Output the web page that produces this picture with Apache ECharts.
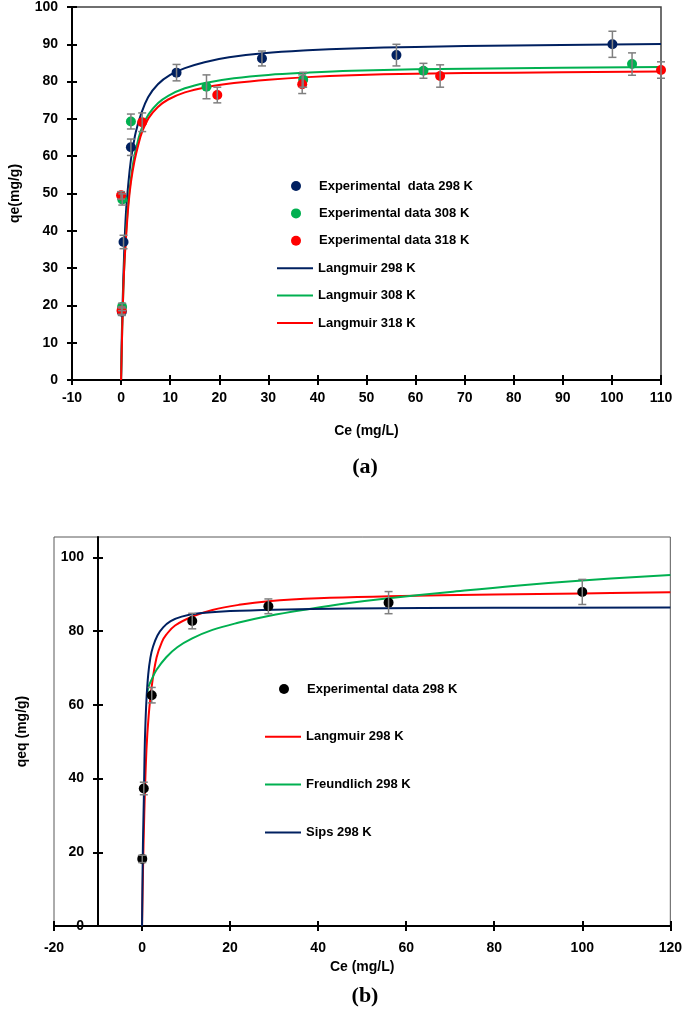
<!DOCTYPE html>
<html><head><meta charset="utf-8">
<script src="https://cdn.jsdelivr.net/npm/echarts@6/dist/echarts.min.js"></script>
<style>html,body{margin:0;padding:0;background:#fff}#c{width:685px;height:1009px}</style>
</head><body><div id="c"></div>
<script>
// ---------- Chart (a) data ----------
const xTicksA = [-10, 110, 10];
const yTicksA = [0, 100, 10];
const expA298 = [[0.15,18.3],[0.5,37.0],[2.0,62.4],[11.3,82.4],[28.7,86.2],[56.1,87.1],[100.1,90.0]];
const errA298 = [1,1.8,2.2,2.2,2,2.9,3.5];
const expA308 = [[0.2,19.6],[0.25,48.4],[2.0,69.3],[17.4,78.6],[37.1,80.5],[61.6,82.9],[104.1,84.7]];
const errA308 = [1,1.5,2,3.2,2,2,3];
const expA318 = [[0.1,18.6],[0.0,49.5],[4.3,69.1],[19.6,76.4],[36.9,79.3],[65.0,81.5],[110.0,83.1]];
const errA318 = [1,1,2.5,2.1,2.5,3,2.2];
const langA298 = [[0,0],[0.15,12],[0.3,20],[0.6,33],[1,45],[1.5,53],[2,59],[2.5,63],[3,66.5],[4,71],[5.5,75.8],[7.5,79.3],[10,81.8],[13,83.6],[17,85.2],[22,86.5],[29,87.6],[38,88.4],[47,88.9],[60,89.3],[80,89.7],[110,90.1]];
const langA308 = [[0,0],[0.15,9],[0.3,17],[0.6,29],[1,39],[1.5,48],[2,54],[2.7,60],[3.5,64.5],[4.3,67.8],[5.6,71.2],[7.5,74.2],[9.6,76.2],[13,78.2],[17.4,79.7],[23,80.9],[30,81.8],[38,82.4],[47,82.9],[60,83.3],[80,83.6],[110,83.9]];
const langA318 = [[0,0],[0.15,9],[0.3,17],[0.6,29],[1,38],[1.5,47],[2,53],[2.7,58.5],[3.5,63],[4.3,66.6],[5.6,70.2],[7.5,73.2],[9.6,75.2],[13,77.1],[17.4,78.5],[23,79.6],[30,80.5],[38,81.2],[47,81.7],[60,82.1],[80,82.4],[110,82.7]];
const legendA = ['Experimental  data 298 K','Experimental data 308 K','Experimental data 318 K','Langmuir 298 K','Langmuir 308 K','Langmuir 318 K'];

// ---------- Chart (b) data ----------
const xTicksB = [-20, 120, 20];
const yTickValuesB = [0,20,40,60,80,100];
const expB298 = [[0.05,18.2],[0.4,37.3],[2.2,62.6],[11.4,82.7],[28.7,86.7],[56.0,87.7],[100.0,90.6]];
const errB298 = [1,1.7,2.1,2.1,2,3,3.4];
const langB = [[0,0],[0.2,14],[0.5,30],[1,47.8],[1.5,57],[2.2,65],[3.3,72.8],[4.5,77],[5.5,79],[7.5,81.5],[11.4,83.9],[16,85.7],[22,87.1],[28.7,88.1],[40,88.9],[56,89.4],[80,89.9],[100,90.2],[120,90.5]];
const freundB = [[1.2,63.5],[1.6,65.3],[2.2,66.9],[3.3,69.5],[5.5,72.9],[8,75.6],[11.4,78],[16,80.3],[22,82.3],[28.7,84.1],[38,86],[47,87.6],[56,88.9],[70,90.6],[85,92.3],[100,93.7],[120,95.2]];
const sipsB = [[0,0],[0.2,22],[0.4,34],[0.55,45],[0.7,52.4],[1,61.3],[1.4,68.2],[1.9,72.8],[2.5,75.8],[3.5,78.8],[4.8,81],[6.5,82.7],[9,83.9],[13,84.8],[20,85.4],[30,85.8],[47,86.1],[80,86.3],[120,86.4]];
const legendB = ['Experimental data 298 K','Langmuir 298 K','Freundlich 298 K','Sips 298 K'];

// ---------- styling ----------
const FONT = "'Liberation Sans', Arial, sans-serif";
const NAVY = '#002060', GREEN = '#00B050', RED = '#FF0000';
const lbl = {fontFamily: FONT, fontWeight: 'bold', fontSize: 14, color: '#000'};
const SUF = ' (b)';

function errRender(params, api) {
  const x = api.value(0), y = api.value(1), e = api.value(2);
  const lo = api.coord([x, y - e]), hi = api.coord([x, y + e]);
  const cap = 4;
  const style = {stroke: '#7f7f7f', lineWidth: 1.5};
  return {type: 'group', children: [
    {type: 'line', shape: {x1: lo[0], y1: lo[1], x2: hi[0], y2: hi[1]}, style},
    {type: 'line', shape: {x1: lo[0]-cap, y1: lo[1], x2: lo[0]+cap, y2: lo[1]}, style},
    {type: 'line', shape: {x1: hi[0]-cap, y1: hi[1], x2: hi[0]+cap, y2: hi[1]}, style}
  ]};
}
const withErr = (pts, errs) => pts.map((p, i) => [p[0], p[1], errs[i]]);

function xAx(grid, t, inside, name, gap, margin) {
  return {
    type: 'value', gridIndex: grid, position: 'bottom', min: t[0], max: t[1], interval: t[2],
    axisLine: {show: !inside, onZero: false, lineStyle: {color: '#000', width: 2}},
    axisTick: {inside: inside, length: 5, lineStyle: {color: '#000', width: 2}},
    axisLabel: inside ? {show: false} : Object.assign({margin: margin}, lbl),
    splitLine: {show: false},
    name: inside ? '' : name, nameLocation: 'middle', nameGap: gap,
    nameTextStyle: lbl
  };
}
function lineS(name, xi, data, color) {
  return {type:'line', name: name, xAxisIndex: xi, yAxisIndex: xi, data: data, symbol:'none', smooth:0.4,
          lineStyle:{color: color, width: 2}, itemStyle:{color: color}, z:2};
}
function scatS(name, xi, data, color, z) {
  return {type:'scatter', name: name, xAxisIndex: xi, yAxisIndex: xi, data: data, symbol:'circle', symbolSize:10,
          itemStyle:{color: color, opacity: 1}, z: z};
}
function errS(name, xi, data) {
  return {type:'custom', name: name, xAxisIndex: xi, yAxisIndex: xi, data: data, renderItem: errRender, encode:{x:0,y:1}, z:6};
}
const legText = {fontFamily: FONT, fontWeight: 'bold', fontSize: 13, lineHeight: 14, color: '#000'};

const series = [
  lineS(legendA[3], 0, langA298, NAVY),
  lineS(legendA[4], 0, langA308, GREEN),
  lineS(legendA[5], 0, langA318, RED),
  scatS(legendA[0], 0, expA298, NAVY, 3),
  scatS(legendA[1], 0, expA308, GREEN, 4),
  scatS(legendA[2], 0, expA318, RED, 5),
  errS('errA298', 0, withErr(expA298, errA298)),
  errS('errA308', 0, withErr(expA308, errA308)),
  errS('errA318', 0, withErr(expA318, errA318)),
  lineS(legendB[1]+SUF, 2, langB, RED),
  lineS(legendB[2]+SUF, 2, freundB, GREEN),
  lineS(legendB[3]+SUF, 2, sipsB, NAVY),
  scatS(legendB[0]+SUF, 2, expB298, '#000', 3),
  errS('errB298', 2, withErr(expB298, errB298))
];

const option = {
  animation: false,
  backgroundColor: '#fff',
  grid: [
    {left:70, right:24, top:6, bottom:629, show:true, borderColor:'#404040', borderWidth:1.5, backgroundColor:'transparent'},
    {left:54, right:14, top:537, bottom:83, show:true, borderColor:'#595959', borderWidth:1, backgroundColor:'transparent'}
  ],
  xAxis: [
    xAx(0, xTicksA, false, 'Ce (mg/L)', 44, 11),
    xAx(0, xTicksA, true, '', 0, 0),
    xAx(1, xTicksB, false, 'Ce (mg/L)', 34, 15),
    xAx(1, xTicksB, true, '', 0, 0)
  ],
  yAxis: [
    {type:'value', gridIndex:0, position:'left', min:yTicksA[0], max:yTicksA[1], interval:yTicksA[2],
     axisLine:{show:true, onZero:false, lineStyle:{color:'#000', width:2}},
     axisTick:{show:true, length:5, lineStyle:{color:'#000', width:2}},
     axisLabel:Object.assign({margin:14}, lbl), splitLine:{show:false},
     name:'qe(mg/g)', nameLocation:'middle', nameGap:50, nameTextStyle:lbl},
    {type:'value', gridIndex:0, position:'left', min:yTicksA[0], max:yTicksA[1], interval:yTicksA[2],
     axisLine:{show:false, onZero:false}, axisTick:{show:true, inside:true, length:5, lineStyle:{color:'#000', width:2}},
     axisLabel:{show:false}, splitLine:{show:false}},
    {type:'value', gridIndex:1, position:'left', min:0, max:105.5, offset:-44,
     axisLine:{show:true, onZero:false, lineStyle:{color:'#000', width:2}},
     axisTick:{show:true, length:5, customValues: yTickValuesB, lineStyle:{color:'#000', width:2}},
     axisLabel:Object.assign({margin:14, customValues: yTickValuesB}, lbl), splitLine:{show:false},
     name:'qeq (mg/g)', nameLocation:'middle', nameGap:69, nameTextStyle:lbl},
    {type:'value', gridIndex:1, position:'left', min:0, max:105.5, offset:-44,
     axisLine:{show:false, onZero:false}, axisTick:{show:true, inside:true, length:5, customValues: yTickValuesB, lineStyle:{color:'#000', width:2}},
     axisLabel:{show:false}, splitLine:{show:false}}
  ],
  legend: [
    {orient:'vertical', left:286, top:174, itemWidth:36, itemHeight:10, itemGap:13.4, selectedMode:false,
     textStyle:legText, data: legendA.slice(0, 3).map(n => ({name: n, icon: 'circle'}))},
    {orient:'vertical', left:272, top:174 + 3*27.4, itemWidth:36, itemHeight:2, itemGap:13.4, selectedMode:false,
     textStyle:legText, icon:'rect', data: legendA.slice(3)},
    {orient:'vertical', left:274, top:677, itemWidth:36, itemHeight:10, itemGap:33.8, selectedMode:false,
     textStyle:legText, formatter: n => n.replace(SUF, ''), data: legendB.slice(0, 1).map(n => ({name: n + SUF, icon: 'circle'}))},
    {orient:'vertical', left:260, top:677 + 47.8, itemWidth:36, itemHeight:2, itemGap:33.8, selectedMode:false,
     textStyle:legText, icon:'rect', formatter: n => n.replace(SUF, ''), data: legendB.slice(1).map(n => n + SUF)}
  ],
  graphic: [
    {type:'text', x:365, y:467, style:{text:'(a)', font:"bold 22px 'Liberation Serif', 'Times New Roman', serif", fill:'#000', textAlign:'center', textVerticalAlign:'middle'}},
    {type:'text', x:365, y:996, style:{text:'(b)', font:"bold 22px 'Liberation Serif', 'Times New Roman', serif", fill:'#000', textAlign:'center', textVerticalAlign:'middle'}}
  ],
  series: series
};
echarts.init(document.getElementById('c'), null, {renderer:'canvas'}).setOption(option);
</script>
</body></html>
